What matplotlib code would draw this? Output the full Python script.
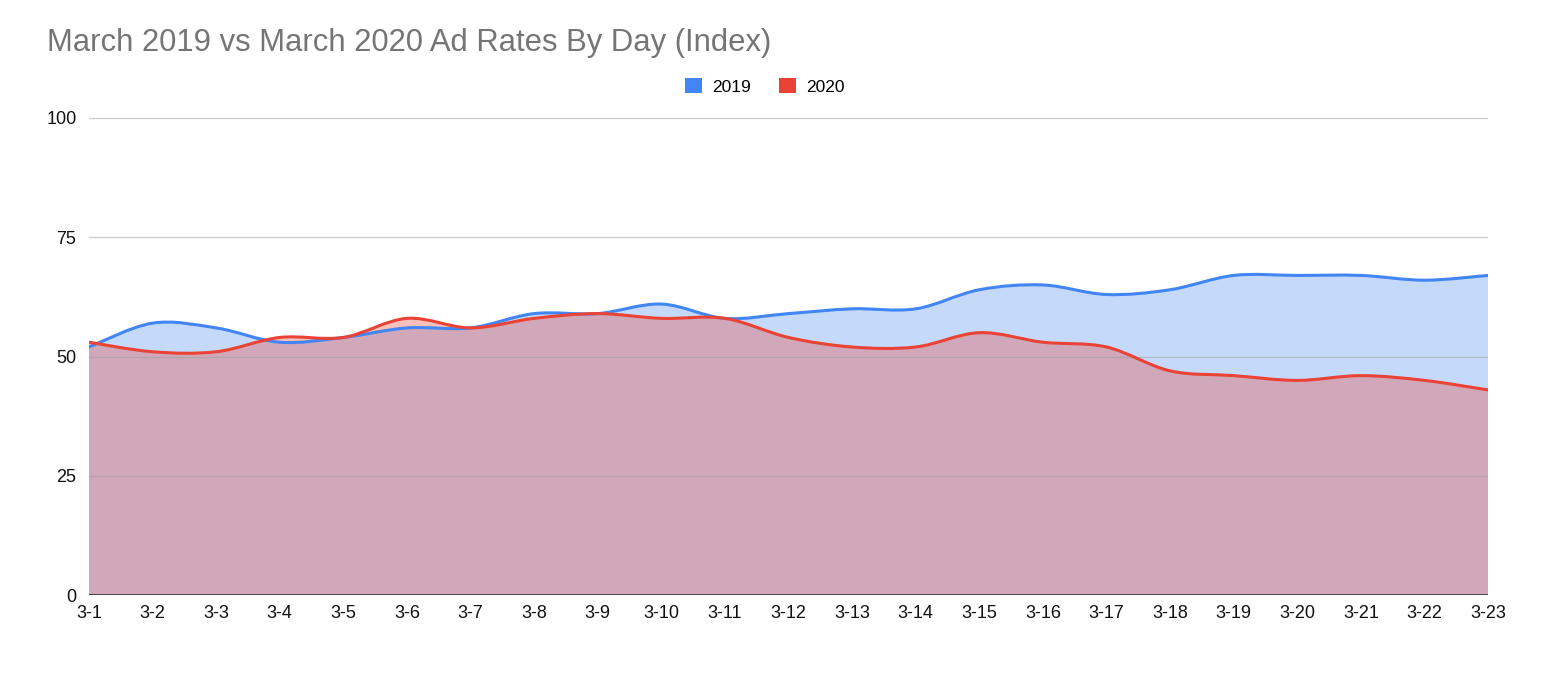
import numpy as np
import matplotlib
matplotlib.use("Agg")
import matplotlib.pyplot as plt
from matplotlib.path import Path
from matplotlib.patches import PathPatch, Patch

days = ["3-%d" % d for d in range(1, 24)]
rates_2019 = [52, 57, 56, 53, 54, 56, 56, 59, 59, 61, 58, 59, 60, 60, 64, 65, 63, 64, 67, 67, 67, 66, 67]
rates_2020 = [53, 51, 51, 54, 54, 58, 56, 58, 59, 58, 58, 54, 52, 52, 55, 53, 52, 47, 46, 45, 46, 45, 43]

blue = "#4285f4"
red = "#ea4335"

plt.rcParams['font.family'] = ['Liberation Sans', 'DejaVu Sans']


def smooth_path(x, y, closed=False):
    # catmull-rom style bezier through the data points
    x = np.asarray(x, float)
    y = np.asarray(y, float)
    verts = [(x[0], y[0])]
    codes = [Path.MOVETO]
    n = len(x)
    for i in range(n - 1):
        x0, y0 = (x[i - 1], y[i - 1]) if i > 0 else (x[i], y[i])
        x3, y3 = (x[i + 2], y[i + 2]) if i + 2 < n else (x[i + 1], y[i + 1])
        c1 = (x[i] + (x[i + 1] - x0) / 6, y[i] + (y[i + 1] - y0) / 6)
        c2 = (x[i + 1] - (x3 - x[i]) / 6, y[i + 1] - (y3 - y[i]) / 6)
        verts += [c1, c2, (x[i + 1], y[i + 1])]
        codes += [Path.CURVE4] * 3
    if closed:
        verts += [(x[-1], 0), (x[0], 0), (x[0], y[0])]
        codes += [Path.LINETO, Path.LINETO, Path.CLOSEPOLY]
    return Path(verts, codes)


fig = plt.figure(figsize=(15.42, 6.84), dpi=100)
ax = fig.add_axes([0.0577, 0.130, 0.9073, 0.6975])

xs = np.arange(len(days))
for vals, col, a, z in [(rates_2019, blue, 0.3, 2), (rates_2020, red, 0.33, 3)]:
    ax.add_patch(PathPatch(smooth_path(xs, vals, closed=True), facecolor=col,
                           alpha=a, edgecolor="none", zorder=z))
for vals, col, z in [(rates_2019, blue, 5), (rates_2020, red, 6)]:
    ax.add_patch(PathPatch(smooth_path(xs, vals), facecolor="none",
                           edgecolor=col, lw=2.2, zorder=z, capstyle="round"))

ax.set_xlim(0, len(days) - 1)
ax.set_ylim(0, 100)
ax.set_yticks([0, 25, 50, 75, 100])
ax.set_xticks(xs)
ax.set_xticklabels(days)
ax.tick_params(length=0, labelsize=13, colors="#111111")
ax.tick_params(axis="y", pad=9)
ax.tick_params(axis="x", pad=7)
for y in [25, 50, 75, 100]:
    ax.axhline(y, color="#9e9e9e", lw=0.9, alpha=0.55, zorder=4)
ax.axhline(0, color="#333333", lw=1.2, zorder=7)
for s in ax.spines.values():
    s.set_visible(False)

fig.text(0.0305, 0.937, "March 2019 vs March 2020 Ad Rates By Day (Index)",
         fontsize=22.3, color="#757575", va="center", ha="left")

handles = [Patch(facecolor=blue, edgecolor="none"), Patch(facecolor=red, edgecolor="none")]
fig.legend(handles, ["2019", "2020"], loc="center", bbox_to_anchor=(0.496, 0.874),
           ncol=2, frameon=False, fontsize=12.5, handlelength=1.0, handleheight=1.0,
           handletextpad=0.6, columnspacing=1.6)

fig.savefig("out.png", dpi=100)
